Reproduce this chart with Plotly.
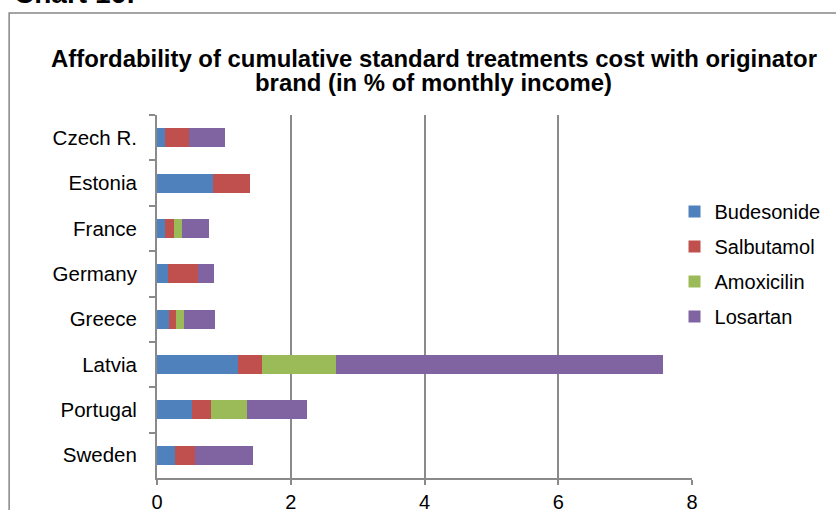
import plotly.graph_objects as go

countries = ["Czech R.", "Estonia", "France", "Germany", "Greece", "Latvia", "Portugal", "Sweden"]
budesonide = [0.12, 0.83, 0.12, 0.16, 0.18, 1.21, 0.53, 0.27]
salbutamol = [0.36, 0.56, 0.14, 0.45, 0.11, 0.36, 0.28, 0.30]
amoxicilin = [0.00, 0.00, 0.12, 0.00, 0.12, 1.11, 0.53, 0.00]
losartan = [0.54, 0.00, 0.40, 0.24, 0.46, 4.89, 0.90, 0.86]
x_ticks = [0, 2, 4, 6, 8]
title_lines = ["Affordability of cumulative standard treatments cost with originator",
               "brand (in % of monthly income)"]

series = [
    ("Budesonide", budesonide, "#4F81BD"),
    ("Salbutamol", salbutamol, "#C0504D"),
    ("Amoxicilin", amoxicilin, "#9BBB59"),
    ("Losartan", losartan, "#8064A2"),
]

FONT = "Liberation Sans, Arial, sans-serif"
W, H = 836, 510
L, R, T, B = 157, 143.5, 115, 32
pw, ph = W - L - R, H - T - B

def px_x(p):
    return (p - L) / pw

def px_y(p):
    return (H - B - p) / ph

fig = go.Figure()
for name, vals, col in series:
    fig.add_trace(go.Bar(
        y=countries, x=vals, name=name, orientation="h",
        marker=dict(color=col, line=dict(width=0)),
        legendgroup=name,
    ))

grid = "#8A8A8A"
title_font = dict(family=FONT, size=23.9, color="black", weight="bold")
annotations = [
    dict(text=title_lines[0], xref="paper", yref="paper", x=px_x(434), y=px_y(58),
         xanchor="center", yanchor="middle", showarrow=False, font=title_font),
    dict(text=title_lines[1], xref="paper", yref="paper", x=px_x(434), y=px_y(82.5),
         xanchor="center", yanchor="middle", showarrow=False, font=title_font),
    dict(text="Chart 16:", xref="paper", yref="paper",
         x=px_x(12), y=px_y(11), xanchor="left", yanchor="bottom",
         showarrow=False, font=dict(family=FONT, size=28, color="black", weight="bold")),
]

fig.update_layout(
    width=W, height=H,
    margin=dict(l=L, r=R, t=T, b=B, autoexpand=False),
    barmode="stack", bargap=0.58,
    plot_bgcolor="white", paper_bgcolor="white",
    font=dict(family=FONT, size=20, color="black"),
    xaxis=dict(
        range=[0, 8], tickvals=x_ticks, ticktext=[str(v) for v in x_ticks],
        showgrid=True, gridcolor=grid, gridwidth=2,
        showline=True, linecolor=grid, linewidth=2,
        ticks="outside", ticklen=5, tickcolor=grid, tickwidth=2,
        zeroline=False, tickfont=dict(size=20),
    ),
    yaxis=dict(
        autorange="reversed", type="category",
        showgrid=False, showline=True, linecolor=grid, linewidth=2,
        ticks="outside", ticklen=6, tickcolor=grid, tickwidth=2,
        tickson="boundaries", ticklabelstandoff=14,
        tickfont=dict(size=20.5),
    ),
    legend=dict(
        x=px_x(675), y=px_y(192), xanchor="left", yanchor="top",
        traceorder="grouped", tracegroupgap=6,
        font=dict(size=20), bgcolor="rgba(0,0,0,0)",
        itemwidth=30,
    ),
    shapes=[dict(
        type="rect", xref="paper", yref="paper",
        x0=px_x(9), x1=px_x(845), y0=px_y(520), y1=px_y(13),
        line=dict(color="#868686", width=1.5), fillcolor="rgba(0,0,0,0)",
        layer="below",
    )],
    annotations=annotations,
)

fig.write_html("out.html", config={"displayModeBar": False},
               post_script="document.body.style.margin='0';")
